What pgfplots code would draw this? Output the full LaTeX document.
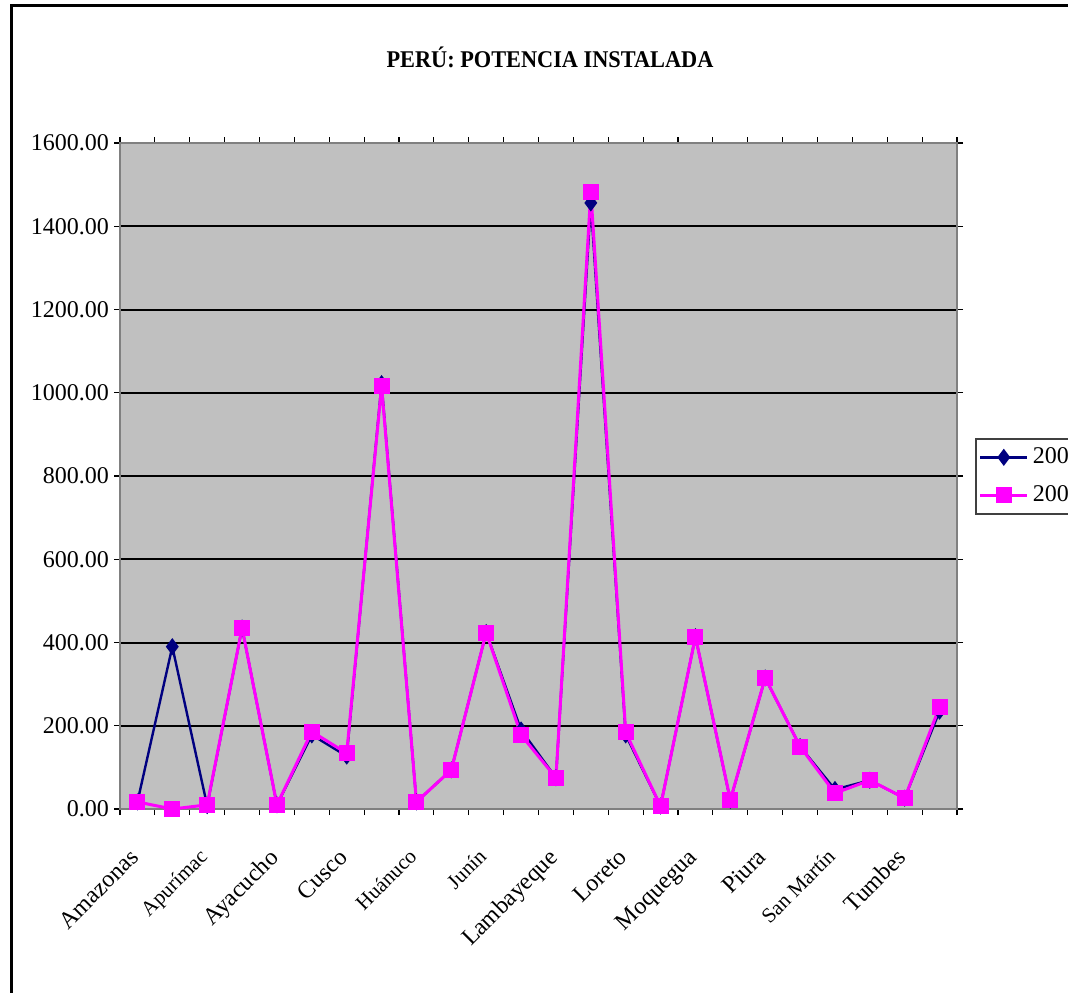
\documentclass[border=0pt]{standalone}
\usepackage{fontspec}
\setmainfont{Liberation Serif}
\usepackage{pgfplots}
\usepackage{pgfplotstable}
\pgfplotsset{compat=1.18}
\definecolor{navyc}{RGB}{0,0,128}
\definecolor{magc}{RGB}{255,0,255}
\definecolor{plotbg}{RGB}{192,192,192}
\definecolor{axgray}{RGB}{128,128,128}

\pgfplotstableread{
idx y2001 y2002
0 17 17
1 390 0
2 8 10
3 435 435
4 10 10
5 178 186
6 127 134
7 1022 1016
8 17 17
9 94 94
10 424 424
11 190 178
12 75 75
13 1456 1483
14 178 184
15 7 7
16 414 414
17 21 22
18 315 315
19 150 150
20 47 38
21 69 69
22 26 26
23 235 246
}\datatable

\begin{document}
\begin{tikzpicture}[x=1pt,y=1pt]
\draw[line width=1.5pt] (5.75,-20) -- (5.75,493.25) -- (560,493.25);
\node[font=\fontsize{12}{14}\selectfont\bfseries] at (275,467.5) {\scalebox{0.93}[1]{PERÚ: POTENCIA INSTALADA}};
\begin{axis}[
  at={(60pt,91.5pt)}, anchor=south west,
  scale only axis, width=418.5pt, height=333pt,
  xmin=-0.5, xmax=23.5, ymin=0, ymax=1600,
  clip=false,
  axis background/.style={fill=plotbg},
  axis line style={axgray, line width=1pt},
  tick style={black, line width=0.6pt},
  tick align=outside,
  major tick length=3pt,
  ymajorgrids,
  major grid style={black, line width=1pt},
  ytick={0,200,...,1600},
  yticklabel style={font=\fontsize{12}{14}\selectfont, xshift=1pt, /pgf/number format/.cd, fixed, fixed zerofill, precision=2, 1000 sep={}, assume math mode=true},
  xtick={-0.5,0.5,...,23.5},
  xticklabels={},
  extra x ticks={0,2,...,22},
  extra x tick labels={Amazonas,{\fontsize{10.5}{12}\selectfont Apurímac},Ayacucho,Cusco,{\fontsize{10.5}{12}\selectfont Huánuco},{\fontsize{10.5}{12}\selectfont Junín},Lambayeque,Loreto,Moquegua,Piura,{\fontsize{10.5}{12}\selectfont San Martín},Tumbes},
  extra x tick style={major tick length=0pt, xticklabel style={yshift=-19pt, xshift=-4.5pt, rotate=45, anchor=north east, inner sep=0pt, font=\fontsize{12}{14}\selectfont}},
  legend style={at={(1.0215,0.557)}, anchor=north west, draw=black!75, line width=0.8pt, fill=white, font=\fontsize{12}{14}\selectfont, row sep=5.5pt, inner xsep=1.5pt, inner ysep=2.5pt},
  legend cell align=left,
  legend image code/.code={\draw[mark repeat=2, mark phase=2] plot coordinates {(0pt,0pt) (11.75pt,0pt) (23.5pt,0pt)};},
]
\addplot[navyc, line width=1.2pt, mark=diamond*, mark size=3.3pt, mark options={solid, fill=navyc, draw=navyc}] table[x=idx, y=y2001] {\datatable};
\addlegendentry{2001}
\addplot[magc, line width=1.5pt, mark=square*, mark size=3.25pt, mark options={solid, fill=magc, draw=magc}] table[x=idx, y=y2002] {\datatable};
\addlegendentry{2002}
\end{axis}
\pgfresetboundingbox
\useasboundingbox (0,0) rectangle (534,496);
\end{tikzpicture}
\end{document}
